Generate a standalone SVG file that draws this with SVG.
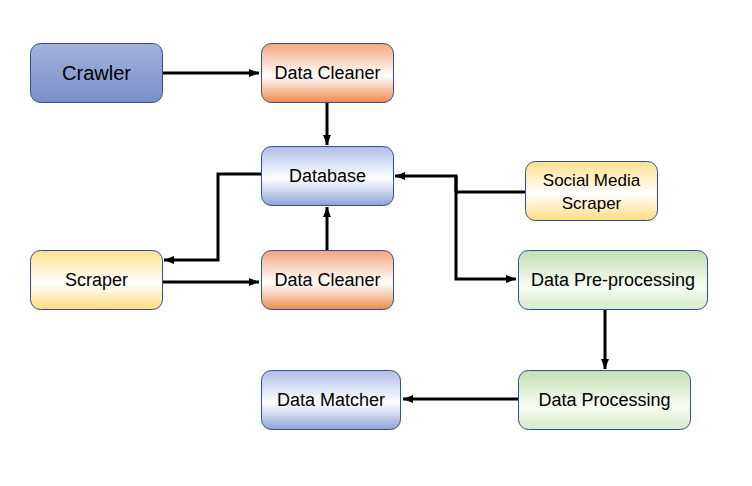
<svg xmlns="http://www.w3.org/2000/svg" width="752" height="486" viewBox="0 0 752 486">
<defs>
<linearGradient id="gBlueSolid" x1="0" y1="0" x2="0" y2="1">
<stop offset="0" stop-color="#a2b2dc"/><stop offset="1" stop-color="#7a8fcb"/>
</linearGradient>
<linearGradient id="gOrange" x1="0" y1="0" x2="0" y2="1">
<stop offset="0" stop-color="#f2a57c"/><stop offset="0.55" stop-color="#ffffff"/><stop offset="1" stop-color="#ee8a4e"/>
</linearGradient>
<linearGradient id="gBlue" x1="0" y1="0" x2="0" y2="1">
<stop offset="0" stop-color="#aebde4"/><stop offset="0.55" stop-color="#ffffff"/><stop offset="1" stop-color="#8ea2d5"/>
</linearGradient>
<linearGradient id="gYellow" x1="0" y1="0" x2="0" y2="1">
<stop offset="0" stop-color="#ffe08f"/><stop offset="0.55" stop-color="#ffffff"/><stop offset="1" stop-color="#ffdc80"/>
</linearGradient>
<linearGradient id="gGreen" x1="0" y1="0" x2="0" y2="1">
<stop offset="0" stop-color="#c3e0b0"/><stop offset="0.6" stop-color="#f7fbf4"/><stop offset="1" stop-color="#d8ebcb"/>
</linearGradient>
<marker id="arr" viewBox="0 0 10 10" refX="10" refY="5" markerWidth="10" markerHeight="10" markerUnits="userSpaceOnUse" orient="auto">
<path d="M0,1 L10,5 L0,9 Z" fill="#000"/>
</marker>
</defs>
<style>
.box{stroke:#2f4f8f;stroke-width:1}
.lbl{font-family:"Liberation Sans",Arial,sans-serif;font-size:18px;fill:#000;text-anchor:middle;dominant-baseline:central}
.big{font-size:20px}
.sm{font-size:17px}
.con{fill:none;stroke:#000;stroke-width:3;marker-end:url(#arr)}
.con2{fill:none;stroke:#000;stroke-width:3}
</style>
<rect width="752" height="486" fill="#fff"/>
<g id="connectors">
<path class="con" d="M162,73 H259"/>
<path class="con" d="M327,102 V145"/>
<path class="con" d="M261,174 H218 V260 H164"/>
<path class="con" d="M162,282 H259"/>
<path class="con" d="M327,250 V207"/>
<path class="con2" d="M526,192 H456"/>
<path class="con" d="M456,192 V176 H395"/>
<path class="con" d="M456,176 V279 H516"/>
<path class="con" d="M605,309 V369"/>
<path class="con" d="M518,399 H403"/>
</g>
<g id="crawler"><rect class="box" x="30.5" y="43.5" width="132" height="59" rx="10" fill="url(#gBlueSolid)"/><text class="lbl big" x="96.5" y="73">Crawler</text></g>
<g id="cleaner1"><rect class="box" x="261.5" y="43.5" width="132" height="59" rx="10" fill="url(#gOrange)"/><text class="lbl" x="327.5" y="73">Data Cleaner</text></g>
<g id="database"><rect class="box" x="261.5" y="146.5" width="132" height="59" rx="10" fill="url(#gBlue)"/><text class="lbl" x="327.5" y="176">Database</text></g>
<g id="social"><rect class="box" x="525.5" y="161.5" width="132" height="59" rx="10" fill="url(#gYellow)"/><text class="lbl sm" x="591.5" y="180">Social Media</text><text class="lbl sm" x="591.5" y="203">Scraper</text></g>
<g id="scraper"><rect class="box" x="30.5" y="250.5" width="132" height="59" rx="10" fill="url(#gYellow)"/><text class="lbl" x="96.5" y="280">Scraper</text></g>
<g id="cleaner2"><rect class="box" x="261.5" y="250.5" width="132" height="59" rx="10" fill="url(#gOrange)"/><text class="lbl" x="327.5" y="280">Data Cleaner</text></g>
<g id="preproc"><rect class="box" x="518.5" y="250.5" width="189" height="59" rx="10" fill="url(#gGreen)"/><text class="lbl" x="613" y="280">Data Pre-processing</text></g>
<g id="matcher"><rect class="box" x="261.5" y="370.5" width="139" height="59" rx="10" fill="url(#gBlue)"/><text class="lbl" x="331" y="400">Data Matcher</text></g>
<g id="processing"><rect class="box" x="518.5" y="370.5" width="172" height="59" rx="10" fill="url(#gGreen)"/><text class="lbl" x="604.5" y="400">Data Processing</text></g>
</svg>
